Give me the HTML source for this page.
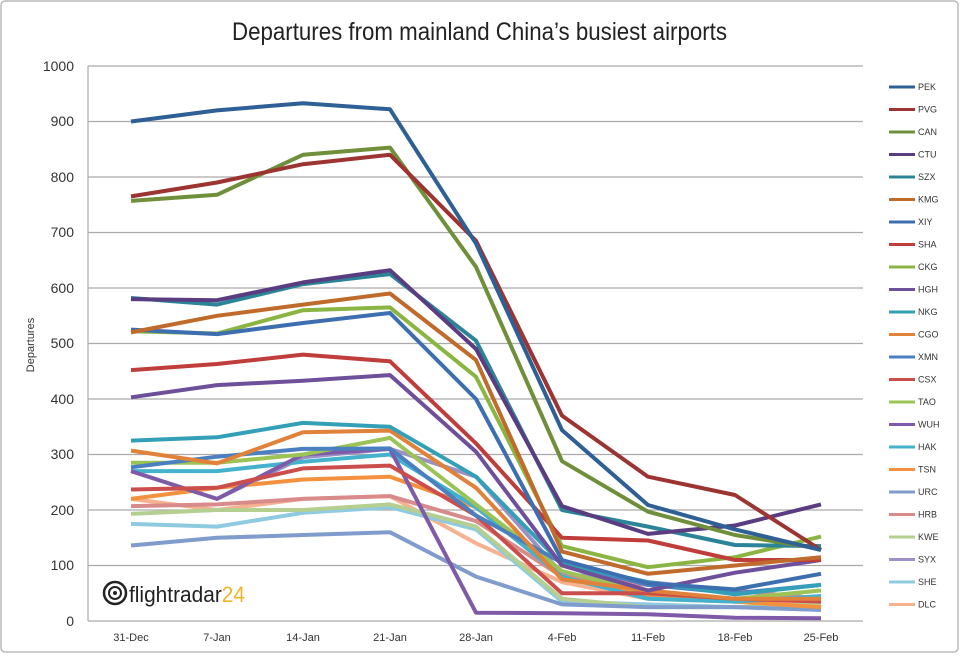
<!DOCTYPE html>
<html><head><meta charset="utf-8"><style>
body{margin:0;background:#fff;}
svg text{font-family:"Liberation Sans",sans-serif;}
</style></head><body>
<svg width="960" height="654" viewBox="0 0 960 654" xmlns="http://www.w3.org/2000/svg">
<rect x="1" y="1" width="957" height="651" rx="4" fill="#fff" stroke="#bbb" stroke-width="1.5"/>
<text x="232" y="40" textLength="495" lengthAdjust="spacingAndGlyphs" font-size="25" fill="#222">Departures from mainland China’s busiest airports</text>
<g stroke="#aaa" stroke-width="1.2">
<line x1="88" y1="66" x2="863" y2="66"/><line x1="88" y1="121.5" x2="863" y2="121.5"/>
<line x1="88" y1="177" x2="863" y2="177"/><line x1="88" y1="232.5" x2="863" y2="232.5"/>
<line x1="88" y1="288" x2="863" y2="288"/><line x1="88" y1="343.5" x2="863" y2="343.5"/>
<line x1="88" y1="399" x2="863" y2="399"/><line x1="88" y1="454.5" x2="863" y2="454.5"/>
<line x1="88" y1="510" x2="863" y2="510"/><line x1="88" y1="565.5" x2="863" y2="565.5"/>
<line x1="88" y1="621" x2="863" y2="621"/><line x1="88" y1="66" x2="88" y2="621"/>
</g>
<g font-size="14" fill="#333" text-anchor="end">
<text x="74" y="71">1000</text><text x="74" y="126">900</text><text x="74" y="182">800</text>
<text x="74" y="237">700</text><text x="74" y="293">600</text><text x="74" y="348">500</text>
<text x="74" y="404">400</text><text x="74" y="459">300</text><text x="74" y="515">200</text>
<text x="74" y="570">100</text><text x="74" y="626">0</text>
</g>
<text transform="translate(34,345) rotate(-90)" text-anchor="middle" font-size="11" fill="#333">Departures</text>
<g font-size="11" fill="#333" text-anchor="middle">
<text x="131" y="641">31-Dec</text><text x="217" y="641">7-Jan</text><text x="303" y="641">14-Jan</text>
<text x="390" y="641">21-Jan</text><text x="476" y="641">28-Jan</text><text x="562" y="641">4-Feb</text>
<text x="648" y="641">11-Feb</text><text x="735" y="641">18-Feb</text><text x="821" y="641">25-Feb</text>
</g>
<g id="lines" fill="none" stroke-width="4" stroke-linejoin="round"></g>
<g id="legend" font-size="9" fill="#333"></g>
<g transform="translate(103,580)">
<circle cx="12" cy="13" r="11" fill="none" stroke="#222" stroke-width="2.5"/>
<circle cx="12" cy="13" r="6" fill="none" stroke="#222" stroke-width="2"/>
<circle cx="12" cy="13" r="2" fill="#222"/>
<text x="26" y="22" textLength="116" lengthAdjust="spacingAndGlyphs" font-size="22" fill="#222">flightradar<tspan fill="#f0b429">24</tspan></text>
</g>
<script>
var xs=[131,217,303,390,476,562,648,735,821];
var S=[
["PEK","#2e5f95",[900,920,933,922,680,344,209,165,128]],
["PVG","#9c3432",[765,790,823,840,685,370,260,227,128]],
["CAN","#6f8f3a",[757,768,840,853,638,288,197,155,130]],
["CTU","#5a3d80",[580,578,610,632,490,207,157,172,210]],
["SZX","#2b8497",[582,570,607,625,505,200,170,137,135]],
["KMG","#c06a2b",[520,550,570,590,470,125,85,100,115]],
["XIY","#3d6fb0",[525,517,537,555,400,110,68,57,85]],
["SHA","#bf3d3a",[452,463,480,468,320,150,145,110,110]],
["CKG","#8ab543",[522,518,560,565,440,135,97,115,152]],
["HGH","#6e4f9a",[403,425,433,443,305,100,55,87,110]],
["NKG","#34a0b8",[325,331,357,350,260,103,70,48,65]],
["CGO","#e0823a",[307,284,340,343,240,75,55,40,40]],
["XMN","#4a7fc0",[277,296,310,311,190,105,65,50,65]],
["CSX","#cc4e4c",[237,240,275,280,190,50,50,40,35]],
["TAO","#9cc356",[285,285,300,330,210,90,50,40,55]],
["WUH","#7f5aa8",[270,220,300,310,15,14,12,6,5]],
["HAK","#44b2cc",[270,270,287,300,205,80,40,35,45]],
["TSN","#f3913f",[220,240,255,260,205,80,45,35,25]],
["URC","#7f9ccd",[136,150,155,160,80,30,25,25,20]],
["HRB","#d98a8a",[207,210,220,225,180,80,65,55,40]],
["KWE","#b5cf91",[193,200,200,210,170,40,25,25,30]],
["SYX","#9d90c4",[270,220,295,310,260,85,70,55,40]],
["SHE","#8fcbe0",[175,170,195,205,165,35,30,25,20]],
["DLC","#f6b28f",[220,200,220,225,140,70,40,35,30]]];
var L=document.getElementById("lines"),G=document.getElementById("legend"),ns="http://www.w3.org/2000/svg";
for(var i=S.length-1;i>=0;i--){var p=document.createElementNS(ns,"polyline");
p.setAttribute("points",S[i][2].map(function(v,j){return xs[j]+","+(621-v*0.555).toFixed(1)}).join(" "));
p.setAttribute("stroke",S[i][1]);L.appendChild(p);}
S.forEach(function(s,i){var y=87+i*22.5;var l=document.createElementNS(ns,"line");
l.setAttribute("x1",889);l.setAttribute("x2",915);l.setAttribute("y1",y);l.setAttribute("y2",y);
l.setAttribute("stroke",s[1]);l.setAttribute("stroke-width",3);G.appendChild(l);
var t=document.createElementNS(ns,"text");t.setAttribute("x",918);t.setAttribute("y",y+3);t.textContent=s[0];G.appendChild(t);});
</script>
</svg>
</body></html>
